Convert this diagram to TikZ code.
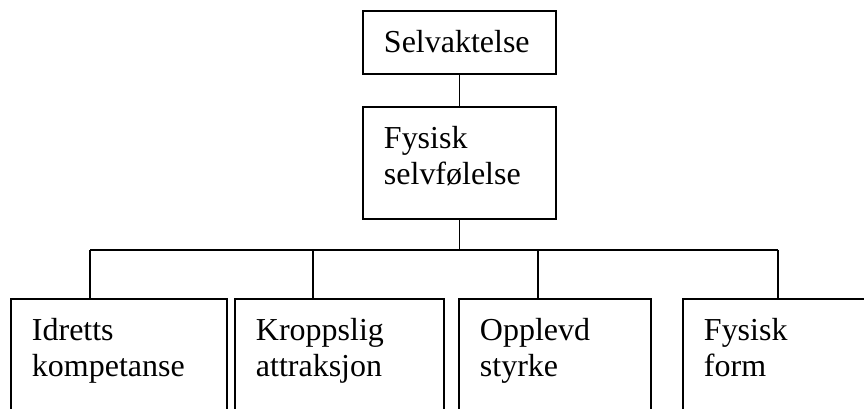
\documentclass[tikz,border=0pt]{standalone}
\usepackage{fontspec}
\setmainfont{Liberation Serif}
\begin{document}
\begin{tikzpicture}[
    box/.style={draw, line width=1.1pt, anchor=north west, align=left,
      inner xsep=0.42cm, inner ysep=0pt, text height=0.84cm,
      font=\fontsize{18.2pt}{20.5pt}\selectfont},
    line width=1.1pt]
        \useasboundingbox (0,0) rectangle (17.28,-8.18);
        \clip (0,0) rectangle (17.28,-8.18);
        % nodes
        \node[box, text width=3.02cm, text depth=0.42cm] (self) at (7.24,-0.20) {Selvaktelse};
        \node[box, text width=3.02cm, text depth=1.40cm] (fys) at (7.24,-2.12) {Fysisk\\selvfølelse};
        \node[box, text width=3.48cm, text depth=2.2cm] (idr) at (0.20,-5.96) {Idretts\\kompetanse};
        \node[box, text width=3.34cm, text depth=2.2cm] (kro) at (4.68,-5.96) {Kroppslig\\attraksjon};
        \node[box, text width=3.00cm, text depth=2.2cm] (opp) at (9.16,-5.96) {Opplevd\\styrke};
        \node[box, text width=3.16cm, text depth=2.2cm] (form) at (13.64,-5.96) {Fysisk\\form};
        % bus
        \coordinate (b1) at (1.80,-5.00);
        \coordinate (b2) at (6.26,-5.00);
        \coordinate (b3) at (10.76,-5.00);
        \coordinate (b4) at (15.56,-5.00);
        % edges
        \draw (self.south) -- (fys.north);
        \draw (fys.south) -- (fys.south |- b1);
        \draw (b1) -- (b4);
        \draw (b1) -- (b1 |- idr.north) (b2) -- (b2 |- kro.north);
        \draw (b3) -- (b3 |- opp.north) (b4) -- (b4 |- form.north);
\end{tikzpicture}
\end{document}
